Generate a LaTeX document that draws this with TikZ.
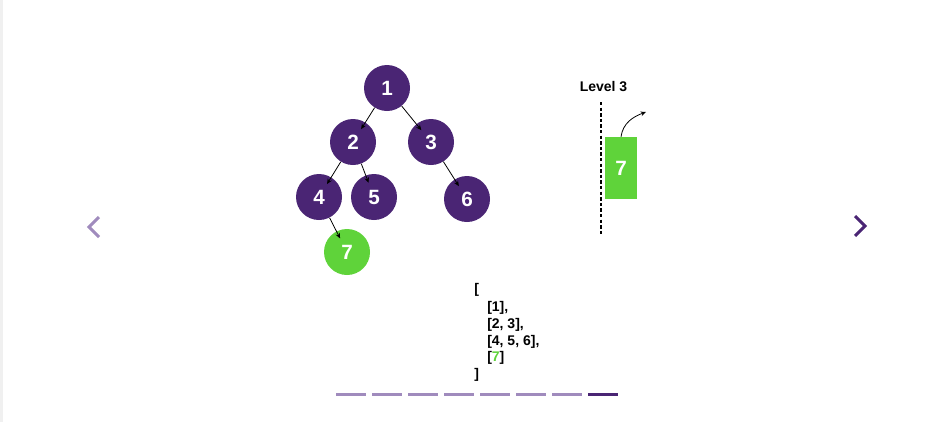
\documentclass[tikz,border=0pt]{standalone}
\usepackage{fontspec}
\setmainfont{Liberation Sans}
\usetikzlibrary{arrows.meta}
\definecolor{treepurple}{HTML}{4A2574}
\definecolor{treegreen}{HTML}{5FD33A}
\definecolor{barlight}{HTML}{A08BBD}
\tikzset{
    treenode/.style={circle, fill=treepurple, minimum size=34.5pt, inner sep=0pt,
        text=white, font=\fontsize{15.5}{15.5}\selectfont\bfseries},
    newnode/.style={treenode, fill=treegreen},
    treeedge/.style={-{Stealth[length=4pt,width=3.5pt]}, line width=0.6pt, shorten >=-6pt},
    listline/.style={anchor=west, inner sep=0pt, font=\fontsize{10.5}{10.5}\selectfont\bfseries},
}
\begin{document}
\begin{tikzpicture}[x=0.75pt, y=-0.75pt]
    \useasboundingbox (0,0) rectangle (938,422);
    \fill[black!6] (0,0) rectangle (2.5,422);

    % tree
    \node[treenode] (n1) at (387,88) {1};
    \node[treenode] (n2) at (353,142) {2};
    \node[treenode] (n3) at (431,142) {3};
    \node[treenode] (n4) at (319,197) {4};
    \node[treenode] (n5) at (374,197) {5};
    \node[treenode] (n6) at (467,199) {6};
    \node[newnode] (n7) at (347,252) {7};

    \foreach \a/\b in {n1/n2,n1/n3,n2/n4,n2/n5,n3/n6,n4/n7}
        {\draw[treeedge] (\a) -- (\b);}

    % queue at level 3
    \node[font=\fontsize{10.5}{10.5}\selectfont\bfseries] (lvl) at (603.5,87) {Level 3};
    \coordinate (qtop) at (601,102);
    \coordinate (qbot) at (601,236);
    \draw[line width=1.6pt, dash pattern=on 2.6pt off 1.6pt] (qtop) -- (qbot);
    \node[fill=treegreen, minimum width=24pt, minimum height=46.5pt, inner sep=0pt,
        text=white, font=\fontsize{15.5}{15.5}\selectfont\bfseries] (qbox) at (621,168) {7};
    \coordinate (qout) at (646,112);
    \draw[-{Stealth[length=4pt,width=3.5pt]}, line width=0.6pt] (qbox.north) to[out=82, in=200] (qout);

    % result list
    \node[listline] (l0) at (474,290) {[};
    \node[listline] (l1) at (487,308) {[1],};
    \node[listline] (l2) at (487,325) {[2, 3],};
    \node[listline] (l3) at (487,342) {[4, 5, 6],};
    \node[listline] (l4) at (487,358) {[\textcolor{treegreen}{7}]};
    \node[listline] (l5) at (474,375) {]};

    % progress bars
    \foreach \i in {0,...,6}
        {\fill[barlight] (336+36*\i,392.5) rectangle (366+36*\i,395.5);}
    \fill[treepurple] (588,392.5) rectangle (618,395.5);

    % chevrons
    \draw[barlight, line width=2.2pt] (99,217) -- (89,227) -- (99,237);
    \draw[treepurple, line width=2.2pt] (855,216) -- (865,226) -- (855,236);
\end{tikzpicture}
\end{document}
